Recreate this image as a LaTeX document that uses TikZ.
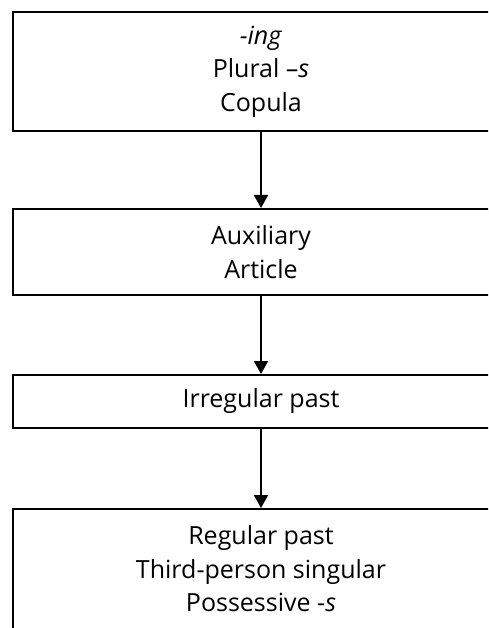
\documentclass[tikz,border=0pt]{standalone}
\usepackage{fontspec}
\setmainfont{Open Sans}
\usetikzlibrary{arrows.meta}
\begin{document}
\begin{tikzpicture}[x=1pt,y=-1pt,
  stagebox/.style={draw=black, line width=2pt, anchor=north west, minimum width=496pt,
    inner sep=0pt, align=center, font=\fontsize{25}{33.5}\selectfont},
  flow/.style={draw=black, line width=2pt, -{Triangle[width=14pt,length=13pt]}}]
\clip (0,0) rectangle (488,628);
\fill[white] (0,0) rectangle (488,628);
\node[stagebox, minimum height=119pt] (b1) at (12,11) {\textit{-ing}\\Plural \textendash\textit{s}\\Copula};
\node[stagebox, minimum height=86pt] (b2) at (12,208) {Auxiliary\\Article};
\node[stagebox, minimum height=53pt] (b3) at (12,374) {Irregular past};
\node[stagebox, minimum height=120pt] (b4) at (12,508) {Regular past\\Third-person singular\\Possessive -\textit{s}};
\draw[flow] (b1.south) -- (b2.north);
\draw[flow] (b2.south) -- (b3.north);
\draw[flow] (b3.south) -- (b4.north);
\end{tikzpicture}
\end{document}
